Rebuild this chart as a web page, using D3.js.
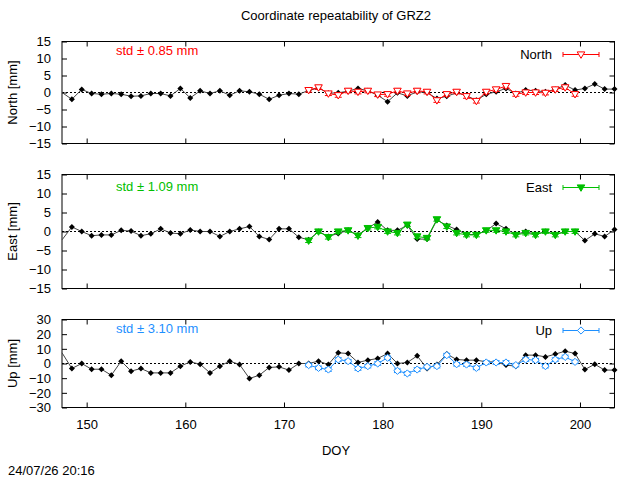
<!DOCTYPE html>
<html><head><meta charset="utf-8">
<script src="https://cdn.jsdelivr.net/npm/d3@7"></script>
<style>
body{margin:0;background:#fff}
svg text{font-family:"Liberation Sans",Arial,sans-serif;font-size:13px;fill:#000}
</style></head>
<body><svg id="c" width="640" height="480"></svg>
<script>
// ---------- data ----------
const doyAll = [147.5,148.5,149.5,150.5,151.5,152.5,153.5,154.5,155.5,156.5,157.5,158.5,159.5,160.5,161.5,162.5,163.5,164.5,165.5,166.5,167.5,168.5,169.5,170.5,171.5,172.5,173.5,174.5,175.5,176.5,177.5,178.5,179.5,180.5,181.5,182.5,183.5,184.5,185.5,186.5,187.5,188.5,189.5,190.5,191.5,192.5,193.5,194.5,195.5,196.5,197.5,198.5,199.5,200.5,201.5,202.5,203.5];
const doySol = [172.5,173.5,174.5,175.5,176.5,177.5,178.5,179.5,180.5,181.5,182.5,183.5,184.5,185.5,186.5,187.5,188.5,189.5,190.5,191.5,192.5,193.5,194.5,195.5,196.5,197.5,198.5,199.5];

const northAll = [0.0,-2.0,0.9,-0.3,-0.5,-0.3,-0.5,-1.1,-1.0,-0.3,-0.3,-1.0,1.2,-1.6,0.5,-0.3,0.5,-0.8,0.5,0.2,-0.5,-2.0,-0.8,-0.3,-0.5,0.6,1.3,-0.2,-0.1,0.4,1.2,0.5,-0.8,-2.7,-0.1,-1.0,0.2,0.0,-1.8,-1.1,-0.1,-0.9,-2.3,-0.5,0.2,1.2,-0.3,0.7,0.5,0.2,0.9,2.2,0.7,1.2,2.5,1.0,1.0];
const northSol = [0.7,1.5,-0.3,-0.8,0.5,0.2,0.5,-0.6,-0.5,0.5,-0.3,0.5,0.2,-2.3,-0.5,0.2,-1.1,-2.5,0.2,0.9,1.9,-0.5,0.0,0.0,-0.1,0.9,1.5,-0.5];
const northErr = [0.6,0.6,0.6,0.6,0.6,0.6,0.6,0.6,0.6,0.6,0.6,0.6,0.6,0.6,0.6,0.6,0.6,0.6,0.6,0.6,0.6,0.6,0.6,0.6,0.6,0.6,0.6,0.6];

const eastAll = [-2.2,1.2,0.0,-1.1,-0.9,-0.9,0.3,0.1,-1.1,-0.6,0.7,-0.4,-0.6,0.4,0.0,0.0,-1.3,0.0,0.7,1.3,-1.3,-2.1,0.7,0.7,-1.5,-2.2,0.0,-1.3,-0.5,0.3,-0.9,0.9,2.5,0.3,0.3,1.6,-2.0,-2.0,3.0,1.6,0.5,-0.8,-0.8,0.2,2.1,0.7,-0.8,0.0,-0.8,0.0,-0.8,0.0,0.0,-2.4,-0.6,-1.3,0.5];
const eastSol = [-2.4,0.0,-1.5,0.0,0.3,-1.1,0.9,1.2,0.0,-0.4,1.8,-1.3,-1.7,3.2,1.3,-0.4,-0.9,-0.9,0.3,0.3,0.0,-0.9,-0.4,-0.9,0.0,-0.9,0.0,0.0];
const eastErr = [0.5,0.5,0.5,0.5,0.5,0.5,0.5,0.5,0.5,0.5,0.5,0.5,0.5,0.5,0.5,0.5,0.5,0.5,0.5,0.5,0.5,0.5,0.5,0.5,0.5,0.5,0.5,0.5];

const upAll = [7.3,-3.4,0.0,-3.9,-3.9,-8.0,1.6,-5.2,-3.4,-6.4,-6.4,-6.4,-1.8,1.1,-0.5,-6.4,-1.8,1.6,-0.7,-10.2,-8.0,-2.7,-2.3,-4.5,0.0,0.0,1.6,-0.7,7.3,6.8,0.7,2.3,3.4,6.8,0.0,0.7,5.2,-3.4,-0.7,6.4,2.7,2.3,2.3,1.1,1.1,-1.1,-1.8,5.7,5.7,4.5,6.4,8.4,6.8,-4.1,-0.5,-4.5,-4.5];
const upSol = [-1.1,-3.0,-4.1,2.7,1.6,-3.4,-1.8,0.0,3.9,-5.0,-6.8,-4.1,-2.3,-1.8,5.7,-0.5,-0.7,-3.0,0.7,0.7,0.7,-1.1,2.7,2.3,-1.8,2.7,4.5,1.1];
const upErr = [1.2,1.2,1.2,1.2,1.2,1.2,1.2,1.2,1.2,1.2,1.2,1.2,1.2,1.2,1.2,1.2,1.2,1.2,1.2,1.2,1.2,1.2,1.2,1.2,1.2,1.2,1.2,1.2];

const xTicks = [150,160,170,180,190,200];
const nTicks = [-15,-10,-5,0,5,10,15];
const uTicks = [-30,-20,-10,0,10,20,30];
const titleText = "Coordinate repeatability of GRZ2";
const stdTexts = ["std \u00b1 0.85 mm","std \u00b1 1.09 mm","std \u00b1 3.10 mm"];
const seriesNames = ["North","East","Up"];
const yLabels = ["North [mm]","East [mm]","Up [mm]"];
const xLabel = "DOY";
const stampText = "24/07/26 20:16";

// ---------- layout ----------
const svg = d3.select("#c");
const L = 62, R = 614.5;
const x = d3.scaleLinear().domain([147.5,203.5]).range([L,R]);

const panels = [
  {top:41.5,bottom:143.5,dom:[-15,15],ticks:nTicks,all:northAll,sol:northSol,err:northErr,color:"#ff0000",marker:"triOpen",stdY:55,legY:54.5,labY:92.5},
  {top:174.5,bottom:288.5,dom:[-15,15],ticks:nTicks,all:eastAll,sol:eastSol,err:eastErr,color:"#00c000",marker:"triFill",stdY:190.5,legY:187.5,labY:231.5},
  {top:319.5,bottom:407.5,dom:[-30,30],ticks:uTicks,all:upAll,sol:upSol,err:upErr,color:"#1e90ff",marker:"diaOpen",stdY:332.5,legY:330.5,labY:363.5}
];

function markerPath(type){
  if(type==="triOpen"||type==="triFill") return "M-3.8,-2.6L3.8,-2.6L0,3.8Z";
  if(type==="diaOpen") return "M0,-3.6L3.6,0L0,3.6L-3.6,0Z";
  return "M0,-3L3,0L0,3L-3,0Z";
}

svg.append("text").attr("x",336).attr("y",20).attr("text-anchor","middle").text(titleText);

panels.forEach((p,i)=>{
  const y = d3.scaleLinear().domain(p.dom).range([p.bottom,p.top]);
  const g = svg.append("g");

  // zero line
  g.append("line").attr("x1",L).attr("x2",R).attr("y1",y(0)).attr("y2",y(0))
    .attr("stroke","#000").attr("stroke-width",1).attr("stroke-dasharray","2,2");

  // axes
  const ax = d3.axisLeft(y).tickValues(p.ticks).tickSize(-5).tickPadding(11).tickFormat(d3.format("d"));
  const gl = g.append("g").attr("transform",`translate(${L},0)`).call(ax);
  const gr = g.append("g").attr("transform",`translate(${R},0)`).call(d3.axisRight(y).tickValues(p.ticks).tickSize(-5).tickFormat(""));
  const gb = g.append("g").attr("transform",`translate(0,${p.bottom})`)
    .call(d3.axisBottom(x).tickValues(xTicks).tickSize(-5).tickPadding(12).tickFormat(i===2?d3.format("d"):""));
  const gt = g.append("g").attr("transform",`translate(0,${p.top})`)
    .call(d3.axisTop(x).tickValues(xTicks).tickSize(-5).tickFormat(""));
  [gl,gr,gb,gt].forEach(a=>{
    a.select(".domain").remove();
    a.selectAll("line").attr("stroke","#000");
    a.selectAll("text").attr("font-size",13).attr("font-family","Liberation Sans, Arial, sans-serif").attr("fill","#000");
  });
  g.append("rect").attr("x",L).attr("y",p.top).attr("width",R-L).attr("height",p.bottom-p.top)
    .attr("fill","none").attr("stroke","#000").attr("stroke-width",1);

  // black all-solutions series
  const line = d3.line().x(d=>x(d[0])).y(d=>y(d[1]));
  const allPts = doyAll.map((d,k)=>[d,p.all[k]]);
  g.append("path").attr("d",line(allPts)).attr("fill","none").attr("stroke","#444").attr("stroke-width",1);
  g.selectAll(".bk").data(allPts.filter(d=>d[0]>x.domain()[0])).enter().append("path")
    .attr("transform",d=>`translate(${x(d[0])},${y(d[1])})`)
    .attr("d",markerPath("dia")).attr("fill","#000");

  // coloured series with error bars
  const solPts = doySol.map((d,k)=>[d,p.sol[k],p.err[k]]);
  g.append("path").attr("d",line(solPts)).attr("fill","none").attr("stroke",p.color).attr("stroke-width",1);
  solPts.forEach(d=>{
    const cx=x(d[0]), y1=y(d[1]-d[2]), y2=y(d[1]+d[2]);
    g.append("line").attr("x1",cx).attr("x2",cx).attr("y1",y1).attr("y2",y2).attr("stroke",p.color);
    g.append("line").attr("x1",cx-3.5).attr("x2",cx+3.5).attr("y1",y1).attr("y2",y1).attr("stroke",p.color);
    g.append("line").attr("x1",cx-3.5).attr("x2",cx+3.5).attr("y1",y2).attr("y2",y2).attr("stroke",p.color);
  });
  g.selectAll(".cm").data(solPts).enter().append("path")
    .attr("transform",d=>`translate(${x(d[0])},${y(d[1])})`)
    .attr("d",markerPath(p.marker))
    .attr("fill",p.marker==="triFill"?p.color:"#fff").attr("stroke",p.color).attr("stroke-width",1);

  // std text
  g.append("text").attr("x",116).attr("y",p.stdY).attr("fill",p.color).style("fill",p.color).text(stdTexts[i]);

  // legend
  g.append("text").attr("x",552).attr("y",p.legY+4.5).attr("text-anchor","end").text(seriesNames[i]);
  const lx1=563, lx2=599, ly=p.legY;
  g.append("line").attr("x1",lx1).attr("x2",lx2).attr("y1",ly).attr("y2",ly).attr("stroke",p.color);
  g.append("line").attr("x1",lx1).attr("x2",lx1).attr("y1",ly-2.5).attr("y2",ly+2.5).attr("stroke",p.color);
  g.append("line").attr("x1",lx2).attr("x2",lx2).attr("y1",ly-2.5).attr("y2",ly+2.5).attr("stroke",p.color);
  g.append("path").attr("transform",`translate(${(lx1+lx2)/2},${ly})`).attr("d",markerPath(p.marker))
    .attr("fill",p.marker==="triFill"?p.color:"#fff").attr("stroke",p.color);

  // y label
  svg.append("text").attr("transform",`translate(17,${p.labY}) rotate(-90)`).attr("text-anchor","middle").text(yLabels[i]);
});

svg.append("text").attr("x",336).attr("y",455).attr("text-anchor","middle").text(xLabel);
svg.append("text").attr("x",8).attr("y",475).text(stampText);
</script></body></html>
